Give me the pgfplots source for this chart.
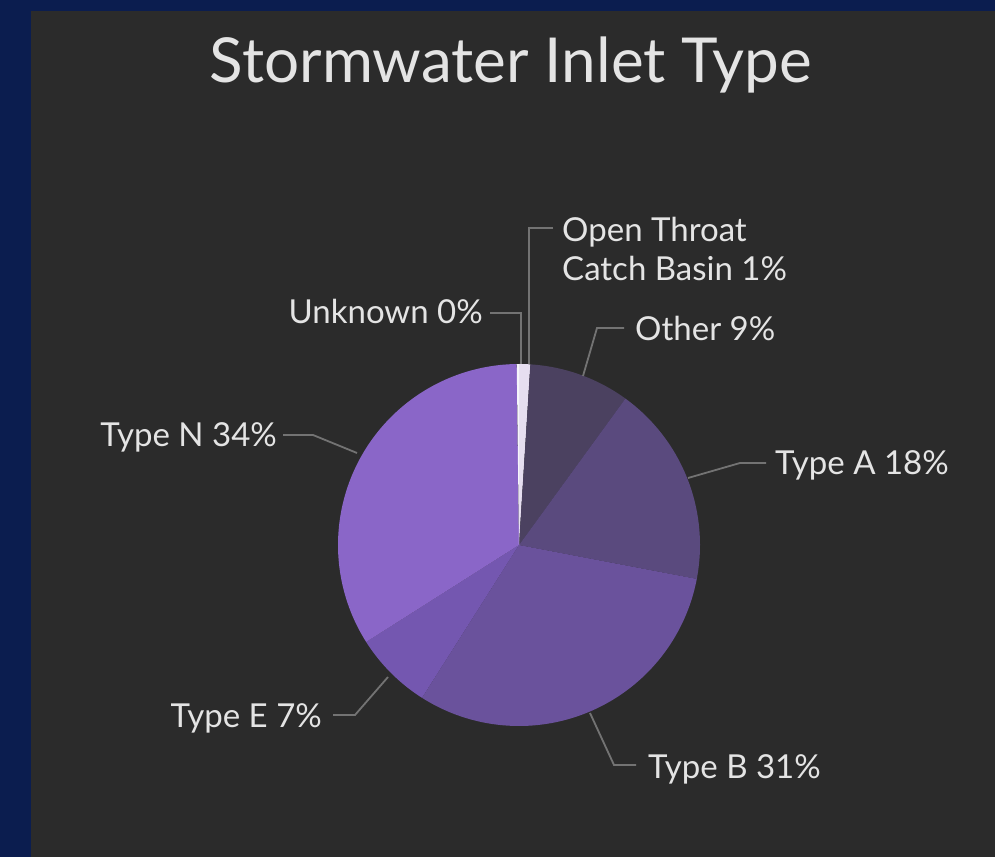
\documentclass[border=0pt]{standalone}
\usepackage{pgfplots}
\usepackage{pgfplotstable}
\pgfplotsset{compat=1.18}
\usepackage{fontspec}
\setmainfont{Lato}
\definecolor{navy}{RGB}{11,29,79}
\definecolor{panel}{RGB}{43,43,43}
\definecolor{cOpen}{RGB}{230,222,240}
\definecolor{cOther}{RGB}{75,65,96}
\definecolor{cA}{RGB}{90,74,126}
\definecolor{cB}{RGB}{106,82,156}
\definecolor{cE}{RGB}{116,87,176}
\definecolor{cN}{RGB}{138,102,200}
\definecolor{cU}{RGB}{245,245,250}
\definecolor{lead}{RGB}{115,115,115}
\definecolor{txt}{RGB}{228,228,228}

\pgfplotstableread{
name value
OpenThroat 1
Other 9
TypeA 18
TypeB 31
TypeE 7
TypeN 33.8
Unknown 0.2
}\piedata

\newcommand\pv[2]{\pgfplotstablegetelem{#1}{value}\of\piedata\edef#2{\pgfplotsretval}}

\begin{document}
\begin{tikzpicture}
\pv{0}\vO \pv{1}\vT \pv{2}\vA \pv{3}\vB \pv{4}\vE \pv{5}\vN \pv{6}\vU
\pgfmathsetmacro\sO{0}
\pgfmathsetmacro\sT{\sO+3.6*\vO}
\pgfmathsetmacro\sA{\sT+3.6*\vT}
\pgfmathsetmacro\sB{\sA+3.6*\vA}
\pgfmathsetmacro\sE{\sB+3.6*\vB}
\pgfmathsetmacro\sN{\sE+3.6*\vE}
\pgfmathsetmacro\sU{\sN+3.6*\vN}
\pgfmathsetmacro\sZ{\sU+3.6*\vU}
\fill[navy] (0,0) rectangle (995pt,857pt);
\fill[panel] (31pt,0) rectangle (995pt,846pt);
\begin{axis}[hide axis, scale only axis, width=995pt, height=857pt,
  xmin=0, xmax=995, ymin=0, ymax=857, clip=false, anchor=south west, at={(0,0)}]
\addplot[fill=cOpen, draw=none, domain=\sO:\sT, samples=5, variable=\t] ({519+181*sin(\t)},{312+181*cos(\t)}) -- (axis cs:519,312) -- cycle;
\addplot[fill=cOther, draw=none, domain=\sT:\sA, samples=40, variable=\t] ({519+181*sin(\t)},{312+181*cos(\t)}) -- (axis cs:519,312) -- cycle;
\addplot[fill=cA, draw=none, domain=\sA:\sB, samples=60, variable=\t] ({519+181*sin(\t)},{312+181*cos(\t)}) -- (axis cs:519,312) -- cycle;
\addplot[fill=cB, draw=none, domain=\sB:\sE, samples=90, variable=\t] ({519+181*sin(\t)},{312+181*cos(\t)}) -- (axis cs:519,312) -- cycle;
\addplot[fill=cE, draw=none, domain=\sE:\sN, samples=30, variable=\t] ({519+181*sin(\t)},{312+181*cos(\t)}) -- (axis cs:519,312) -- cycle;
\addplot[fill=cN, draw=none, domain=\sN:\sU, samples=100, variable=\t] ({519+181*sin(\t)},{312+181*cos(\t)}) -- (axis cs:519,312) -- cycle;
\addplot[fill=cU, draw=none, domain=\sU:\sZ, samples=2, variable=\t] ({519+181*sin(\t)},{312+181*cos(\t)}) -- (axis cs:519,312) -- cycle;

% leader lines
\draw[lead, line width=1.8pt] (axis cs:553,629) -- (axis cs:529,629) -- (axis cs:529,493);
\draw[lead, line width=1.8pt] (axis cs:490,544) -- (axis cs:521,544) -- (axis cs:521,493);
\draw[lead, line width=1.8pt] (axis cs:624,529) -- (axis cs:597,529) -- (axis cs:583,481);
\draw[lead, line width=1.8pt] (axis cs:766,394) -- (axis cs:740,394) -- (axis cs:688,379);
\draw[lead, line width=1.8pt] (axis cs:283,422) -- (axis cs:313,422) -- (axis cs:357,404);
\draw[lead, line width=1.8pt] (axis cs:333,142) -- (axis cs:355,142) -- (axis cs:388,180);
\draw[lead, line width=1.8pt] (axis cs:590,144) -- (axis cs:614,92) -- (axis cs:636,92);

% labels
\node[txt, font=\fontsize{62}{74}\selectfont, anchor=base, inner sep=0pt] at (axis cs:511,774) {Stormwater Inlet Type};
\node[txt, font=\fontsize{33}{39}\selectfont, anchor=base west, inner sep=0pt] at (axis cs:562,615) {Open Throat};
\node[txt, font=\fontsize{33}{39}\selectfont, anchor=base west, inner sep=0pt] at (axis cs:562,576) {Catch Basin 1\%};
\node[txt, font=\fontsize{33}{39}\selectfont, anchor=base east, inner sep=0pt] at (axis cs:483,533) {Unknown 0\%};
\node[txt, font=\fontsize{33}{39}\selectfont, anchor=base west, inner sep=0pt] at (axis cs:635,516) {Other 9\%};
\node[txt, font=\fontsize{33}{39}\selectfont, anchor=base west, inner sep=0pt] at (axis cs:775,382) {Type A 18\%};
\node[txt, font=\fontsize{33}{39}\selectfont, anchor=base east, inner sep=0pt] at (axis cs:277,410) {Type N 34\%};
\node[txt, font=\fontsize{33}{39}\selectfont, anchor=base east, inner sep=0pt] at (axis cs:322,130) {Type E 7\%};
\node[txt, font=\fontsize{33}{39}\selectfont, anchor=base west, inner sep=0pt] at (axis cs:648,79) {Type B 31\%};
\end{axis}
\end{tikzpicture}
\end{document}
